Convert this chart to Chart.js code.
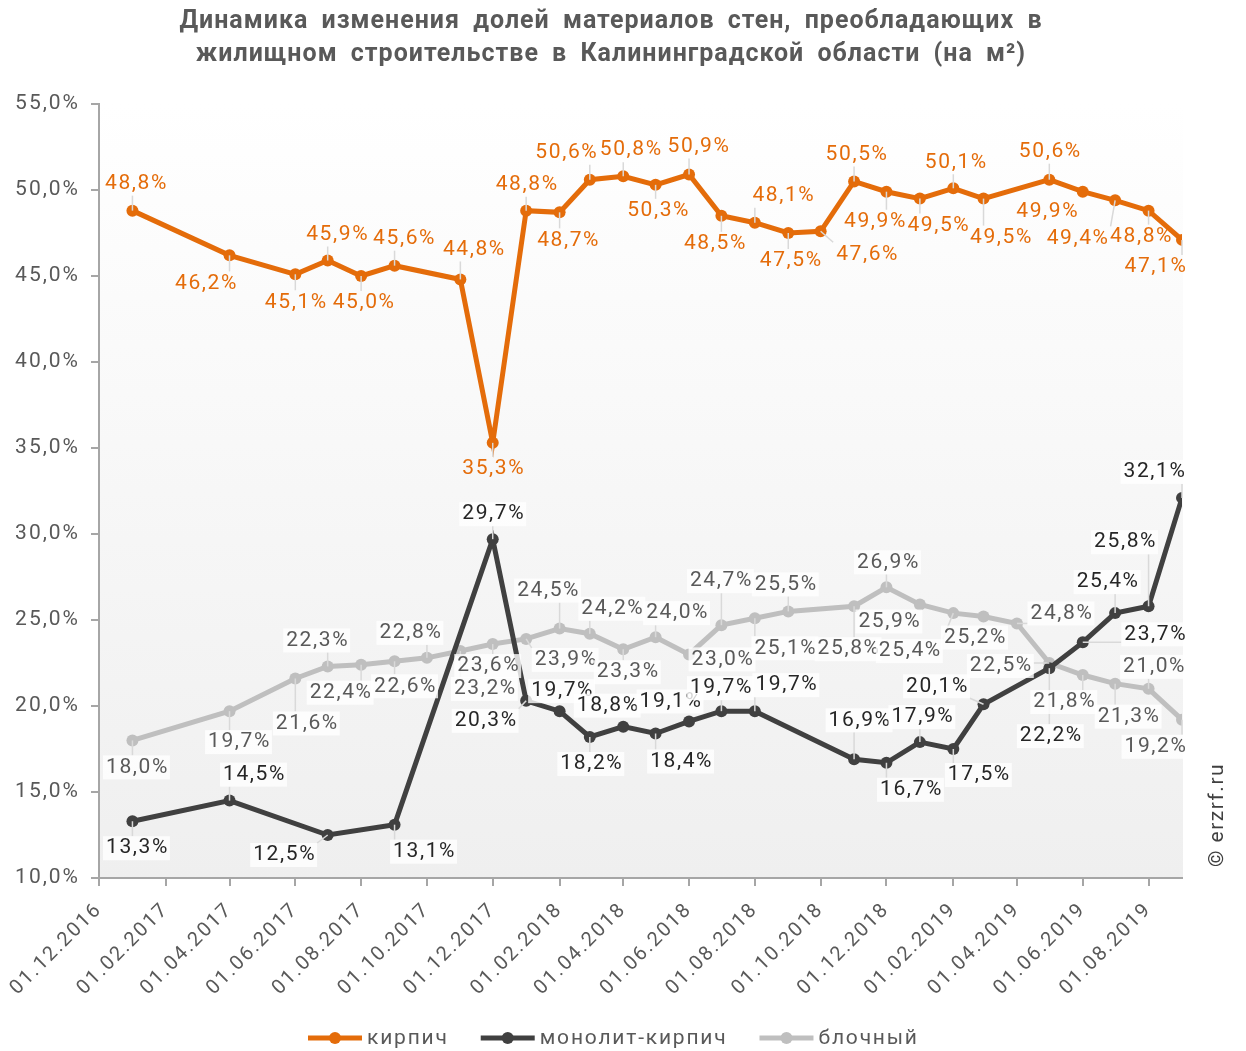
<!DOCTYPE html>
<html>
<head>
<meta charset="utf-8">
<script src="https://cdn.jsdelivr.net/npm/chart.js@4.4.0/dist/chart.umd.min.js"></script>
<style>
html, body { margin: 0; padding: 0; background: #fff; }
</style>
</head>
<body>
<canvas id="myChart" width="1246" height="1051"></canvas>
<script>
// даты замеров
var daty = ["01.01.2017", "01.04.2017", "01.06.2017", "01.07.2017", "01.08.2017", "01.09.2017",
  "01.10.2017", "01.11.2017", "01.12.2017", "01.01.2018", "01.02.2018", "01.03.2018",
  "01.04.2018", "01.05.2018", "01.06.2018", "01.07.2018", "01.08.2018", "01.09.2018",
  "01.10.2018", "01.11.2018", "01.12.2018", "01.01.2019", "01.02.2019", "01.03.2019",
  "01.04.2019", "01.05.2019", "01.06.2019", "01.07.2019", "01.08.2019", "01.09.2019"];

var kirpich = [48.8, 46.2, 45.1, 45.9, 45.0, 45.6, null, 44.8, 35.3, 48.8, 48.7, 50.6,
  50.8, 50.3, 50.9, 48.5, 48.1, 47.5, 47.6, 50.5, 49.9, 49.5, 50.1, 49.5,
  null, 50.6, 49.9, 49.4, 48.8, 47.1];

var monolit = [13.3, 14.5, null, 12.5, null, 13.1, null, null, 29.7, 20.3, 19.7, 18.2,
  18.8, 18.4, 19.1, 19.7, 19.7, null, null, 16.9, 16.7, 17.9, 17.5, 20.1,
  null, 22.2, 23.7, 25.4, 25.8, 32.1];

var blochny = [18.0, 19.7, 21.6, 22.3, 22.4, 22.6, 22.8, 23.2, 23.6, 23.9, 24.5, 24.2,
  23.3, 24.0, 23.0, 24.7, 25.1, 25.5, null, 25.8, 26.9, 25.9, 25.4, 25.2,
  24.8, 22.5, 21.8, 21.3, 21.0, 19.2];

var nazvaniya = ["кирпич", "монолит-кирпич", "блочный"];

var tiki = ["01.12.2016", "01.02.2017", "01.04.2017", "01.06.2017", "01.08.2017", "01.10.2017",
  "01.12.2017", "01.02.2018", "01.04.2018", "01.06.2018", "01.08.2018", "01.10.2018",
  "01.12.2018", "01.02.2019", "01.04.2019", "01.06.2019", "01.08.2019"];

var konec = "01.09.2019";

// куда сдвинуты подписи относительно точки (px)
var sdvig_k = [[3,-27],[-24,28],[0,28],[9,-26],[2,27],[9,-27],null,[13,-30],[0,26],[0,-26],[8,28],[-24,-27],
  [7,-26],[2,26],[9,-28],[-7,28],[28,-27],[2,28],[46,23],[2,-27],[-12,30],[18,27],[2,-26],[17,39],
  null,[0,-28],[-36,20],[-38,38],[-8,26],[-27,27]];
var sdvig_m = [[4,27],[24,-26],null,[-44,20],null,[29,27],null,null,[0,-25],[-41,20],[2,-20],[1,27],
  [-16,-21],[25,28],[-19,-20],[-1,-23],[31,-26],null,null,[5,-39],[24,27],[2,-25],[25,26],[-47,-18],
  null,[1,68],[72,-8],[-8,-31],[-24,-64],[-28,-26]];
var sdvig_b = [[4,27],[9,31],[11,45],[-11,-26],[-21,28],[10,25],[-17,-25],[24,38],[-5,22],[39,21],[-12,-38],[22,-25],
  [4,23],[21,-24],[33,5],[-1,-44],[30,30],[-3,-27],null,[-6,43],[1,-25],[-31,17],[-44,38],[-9,21],
  [44,-10],[-49,3],[-19,27],[13,33],[5,-22],[-27,27]];

var cveta = ["#E46C0A", "#404040", "#BFBFBF"];
var cveta_podpisei = ["#E46C0A", "#262626", "#595959"];

function dni(s) {
  var p = s.split(".");
  return (Date.UTC(+p[2], +p[1] - 1, +p[0]) - Date.UTC(2016, 11, 1)) / 86400000;
}

function tochki(arr) {
  var res = [];
  for (var i = 0; i < daty.length; i++) {
    res.push({ x: dni(daty[i]), y: arr[i] });
  }
  return res;
}

function procent(v) {
  return v.toFixed(1).replace(".", ",") + "%";
}

var shrift = "Roboto, 'Noto Sans', sans-serif";

// фон области графика + разрядка для подписей осей
var fon = {
  id: "fon",
  beforeDraw: function(chart) {
    chart.ctx.letterSpacing = "2px";
  },
  beforeDatasetsDraw: function(chart) {
    var a = chart.chartArea, ctx = chart.ctx;
    var g = ctx.createLinearGradient(0, a.top, 0, a.bottom);
    g.addColorStop(0, "#ffffff");
    g.addColorStop(1, "#efefef");
    ctx.save();
    ctx.fillStyle = g;
    ctx.fillRect(a.left + 1, a.top, a.right - a.left, a.bottom - a.top - 1);
    ctx.restore();
  }
};

// подписи значений
var podpisi = {
  id: "podpisi",
  afterDatasetsDraw: function(chart) {
    var ctx = chart.ctx;
    var sdvigi = [sdvig_k, sdvig_m, sdvig_b];
    var spisok = [];
    ctx.save();
    ctx.font = "21px " + shrift;
    ctx.letterSpacing = "1.6px";
    for (var d = 0; d < 3; d++) {
      var meta = chart.getDatasetMeta(d);
      var data = chart.data.datasets[d].data;
      for (var j = 0; j < meta.data.length; j++) {
        var el = meta.data[j];
        if (data[j].y === null || !sdvigi[d][j]) continue;
        var t = procent(data[j].y);
        var w = ctx.measureText(t).width;
        var cx = el.x + sdvigi[d][j][0], cy = el.y + sdvigi[d][j][1];
        spisok.push({ d: d, t: t, w: w, cx: cx, cy: cy, px: el.x, py: el.y });
      }
    }
    // выноски
    ctx.strokeStyle = "#d9d9d9";
    ctx.lineWidth = 1.5;
    spisok.forEach(function(p) {
      var x1 = p.cx - p.w / 2 - 2, x2 = p.cx + p.w / 2 + 2, y1 = p.cy - 12, y2 = p.cy + 12;
      var nx = Math.max(x1, Math.min(p.px, x2));
      var ny = Math.max(y1, Math.min(p.py, y2));
      var dist = Math.sqrt((nx - p.px) * (nx - p.px) + (ny - p.py) * (ny - p.py));
      if (dist > 9) {
        ctx.beginPath();
        ctx.moveTo(p.px, p.py);
        ctx.lineTo(nx, ny);
        ctx.stroke();
      }
    });
    ctx.textAlign = "center";
    ctx.textBaseline = "middle";
    spisok.forEach(function(p) {
      if (p.d > 0) {
        ctx.fillStyle = "rgba(255,255,255,0.8)";
        ctx.fillRect(p.cx - p.w / 2 - 2, p.cy - 12, p.w + 4, 24);
      }
      ctx.fillStyle = cveta_podpisei[p.d];
      ctx.fillText(p.t, p.cx + 1, p.cy);
    });
    ctx.restore();
  },
  afterDraw: function(chart) {
    var ctx = chart.ctx;
    ctx.save();
    // заголовок
    ctx.fillStyle = "#595959";
    ctx.font = "bold 25px " + shrift;
    ctx.letterSpacing = "1px";
    ctx.wordSpacing = "6px";
    ctx.textAlign = "center";
    ctx.textBaseline = "middle";
    ctx.fillText("Динамика изменения долей материалов стен, преобладающих в", 611, 22);
    ctx.fillText("жилищном строительстве в Калининградской области (на м²)", 611, 55);
    ctx.wordSpacing = "0px";
    // легенда
    ctx.font = "21px " + shrift;
    ctx.letterSpacing = "1.8px";
    ctx.textAlign = "left";
    var x = 308, y = 1038;
    for (var k = 0; k < 3; k++) {
      ctx.strokeStyle = cveta[k];
      ctx.fillStyle = cveta[k];
      ctx.lineWidth = 5;
      ctx.beginPath();
      ctx.moveTo(x, y);
      ctx.lineTo(x + 54, y);
      ctx.stroke();
      ctx.beginPath();
      ctx.arc(x + 27, y, 6, 0, Math.PI * 2);
      ctx.fill();
      ctx.fillStyle = "#595959";
      ctx.fillText(nazvaniya[k], x + 59, y + 1);
      x += 59 + ctx.measureText(nazvaniya[k]).width + 32;
    }
    // копирайт
    ctx.letterSpacing = "1.5px";
    ctx.translate(1218, 815);
    ctx.rotate(-Math.PI / 2);
    ctx.textAlign = "center";
    ctx.fillStyle = "#404040";
    ctx.fillText("© erzrf.ru", 0, 0);
    ctx.restore();
  }
};

function nabor(i, arr) {
  return {
    label: nazvaniya[i],
    data: tochki(arr),
    borderColor: cveta[i],
    backgroundColor: cveta[i],
    borderWidth: 5,
    pointRadius: 6,
    pointBorderWidth: 0,
    pointBackgroundColor: cveta[i],
    tension: 0,
    spanGaps: true
  };
}

new Chart("myChart", {
  type: "line",
  data: {
    datasets: [nabor(0, kirpich), nabor(1, monolit), nabor(2, blochny)]
  },
  options: {
    responsive: false,
    animation: false,
    layout: { padding: { top: 104, right: 64, bottom: 53, left: 0 } },
    plugins: {
      legend: { display: false },
      title: { display: false },
      tooltip: { enabled: false }
    },
    scales: {
      x: {
        type: "linear",
        min: 0,
        max: dni(konec),
        afterBuildTicks: function(s) {
          s.ticks = tiki.map(function(t) { return { value: dni(t) }; });
        },
        afterFit: function(s) { s.height = 120; },
        ticks: {
          autoSkip: false,
          minRotation: 45,
          maxRotation: 45,
          color: "#595959",
          font: { family: shrift, size: 20 },
          padding: 12,
          callback: function(v, i) { return tiki[i]; }
        },
        grid: { drawOnChartArea: false, color: "#a6a6a6", tickLength: 8, lineWidth: 2 },
        border: { color: "#a6a6a6", width: 2 }
      },
      y: {
        min: 10,
        max: 55,
        afterFit: function(s) { s.width = 99; },
        ticks: {
          stepSize: 5,
          color: "#595959",
          font: { family: shrift, size: 21 },
          padding: 11,
          callback: function(v) { return procent(v); }
        },
        grid: { drawOnChartArea: false, color: "#a6a6a6", tickLength: 8, lineWidth: 2 },
        border: { color: "#a6a6a6", width: 2 }
      }
    }
  },
  plugins: [fon, podpisi]
});
</script>
</body>
</html>
